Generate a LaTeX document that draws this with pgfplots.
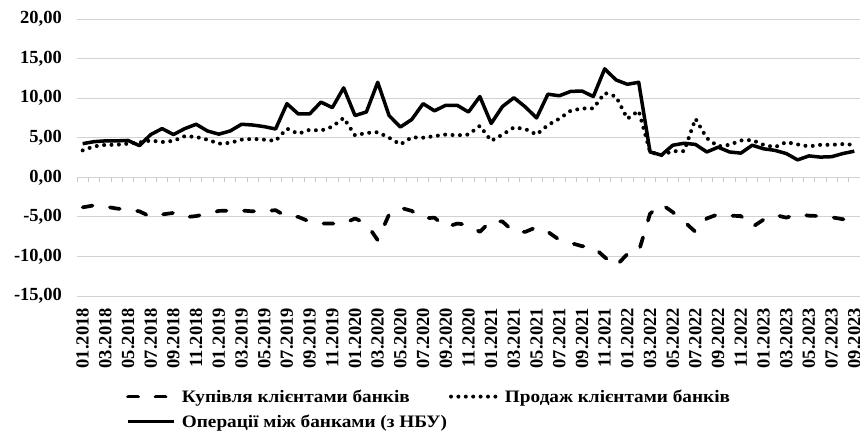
\documentclass[border=0pt]{standalone}
\usepackage{pgfplots}
\usepackage{pgfplotstable}
\pgfplotsset{compat=1.18}
\usepackage{fontspec}
\setmainfont{Liberation Serif}
\newfontfamily\legfont[FakeStretch=1.1]{Liberation Serif}

\pgfplotstableread{
i buy sell inter
0 -3.80 3.40 4.25
1 -3.55 3.90 4.50
2 -3.70 4.10 4.60
3 -3.95 4.10 4.60
4 -4.10 4.25 4.65
5 -4.30 4.40 4.00
6 -5.00 4.65 5.40
7 -4.70 4.45 6.15
8 -4.50 4.60 5.40
9 -5.05 5.20 6.15
10 -4.90 5.10 6.70
11 -4.60 4.75 5.85
12 -4.25 4.25 5.45
13 -4.20 4.35 5.85
14 -4.20 4.75 6.70
15 -4.30 4.85 6.60
16 -4.30 4.75 6.40
17 -4.15 4.60 6.10
18 -5.00 6.15 9.30
19 -5.00 5.50 8.00
20 -5.60 6.00 8.00
21 -5.85 5.90 9.50
22 -5.85 6.40 8.80
23 -5.85 7.50 11.30
24 -5.20 5.30 7.80
25 -5.85 5.60 8.25
26 -7.95 5.70 12.00
27 -4.70 5.00 7.80
28 -3.85 4.15 6.35
29 -4.25 5.05 7.30
30 -5.20 5.00 9.30
31 -5.10 5.20 8.40
32 -6.30 5.40 9.10
33 -5.85 5.30 9.10
34 -6.00 5.40 8.25
35 -6.90 6.50 10.20
36 -5.45 4.60 6.80
37 -5.60 5.40 8.95
38 -6.90 6.30 10.05
39 -6.90 6.10 8.90
40 -6.30 5.40 7.50
41 -6.90 6.60 10.50
42 -7.90 7.40 10.30
43 -8.30 8.40 10.85
44 -8.70 8.70 10.90
45 -8.80 8.70 10.20
46 -10.10 10.65 13.70
47 -11.20 10.20 12.30
48 -9.70 7.40 11.75
49 -9.40 8.40 12.00
50 -4.60 3.20 3.20
51 -3.40 2.80 2.80
52 -4.40 3.30 4.05
53 -5.60 3.30 4.30
54 -6.90 7.40 4.15
55 -5.20 4.95 3.20
56 -4.67 3.90 3.80
57 -4.85 4.10 3.20
58 -4.90 4.65 3.05
59 -6.30 4.70 4.05
60 -5.35 4.10 3.60
61 -4.75 3.80 3.40
62 -5.10 4.45 3.00
63 -4.67 4.15 2.20
64 -4.85 3.90 2.70
65 -4.90 4.10 2.55
66 -5.05 4.10 2.60
67 -5.30 4.20 3.00
68 -5.60 4.10 3.30
}\datatable

\begin{document}
\begin{tikzpicture}
% zero line tick marks
\begin{axis}[
  at={(77pt,145pt)}, anchor=south west,
  scale only axis, width=783pt, height=277pt,
  xmin=-0.5, xmax=68.5, ymin=-15, ymax=20,
  axis x line=middle, axis y line=none,
  axis line style={draw=gray!35, line width=0.8pt, -},
  xtick={-0.5,0.5,...,68.5}, xticklabels={},
  ytick=\empty,
  tick align=outside,
  major tick length=5pt,
  tick style={gray!45, line width=0.8pt},
]
\end{axis}
\begin{axis}[
  at={(77pt,145pt)}, anchor=south west,
  scale only axis, width=783pt, height=277pt,
  xmin=-0.5, xmax=68.5, ymin=-15, ymax=20,
  axis line style={draw=none},
  ytick={-15,-10,-5,0,5,10,15,20},
  yticklabels={{-15,00},{-10,00},{-5,00},{0,00},{5,00},{10,00},{15,00},{20,00}},
  ymajorgrids,
  grid style={gray!35, line width=0.8pt},
  major tick length=0pt,
  yticklabel style={anchor=east, inner sep=0pt, xshift=-15pt, font=\fontsize{18.5}{20}\selectfont\bfseries},
  xtick={0,2,...,68},
  xticklabels={01.2018,03.2018,05.2018,07.2018,09.2018,11.2018,
    01.2019,03.2019,05.2019,07.2019,09.2019,11.2019,
    01.2020,03.2020,05.2020,07.2020,09.2020,11.2020,
    01.2021,03.2021,05.2021,07.2021,09.2021,11.2021,
    01.2022,03.2022,05.2022,07.2022,09.2022,11.2022,
    01.2023,03.2023,05.2023,07.2023,09.2023},
  xticklabel style={yshift=-12pt, rotate=90, anchor=east, inner sep=0pt, font=\fontsize{18.5}{20}\selectfont\bfseries},
  legend columns=2,
  legend cell align=left,
  legend image code/.code={\draw[#1] (0pt,0pt) -- (46pt,0pt);},
  legend style={
    at={(axis description cs:0.0626,-0.33)}, anchor=north west,
    draw=none, fill=none, inner sep=0pt,
    font=\legfont\fontsize{17.5}{19}\selectfont\bfseries,
    nodes={inner sep=2pt},
    /tikz/every odd column/.append style={column sep=4pt},
    row sep=7pt,
  },
]
\addplot[black, line width=3.7pt, line cap=round, line join=round, dash pattern=on 10pt off 17.5pt] table[x=i, y=buy] {\datatable};
\addlegendentry{Купівля клієнтами банків}
\addplot[black, line width=4pt, line cap=round, line join=round, dash pattern=on 0pt off 7.4pt] table[x=i, y=sell] {\datatable};
\addlegendentry{Продаж клієнтами банків}
\addplot[black, line width=3.5pt, line join=round] table[x=i, y=inter] {\datatable};
\addlegendentry{Операції між банками (з НБУ)}
\end{axis}
\pgfresetboundingbox
\path[use as bounding box] (0,0) rectangle (860pt,441pt);
\end{tikzpicture}
\end{document}
